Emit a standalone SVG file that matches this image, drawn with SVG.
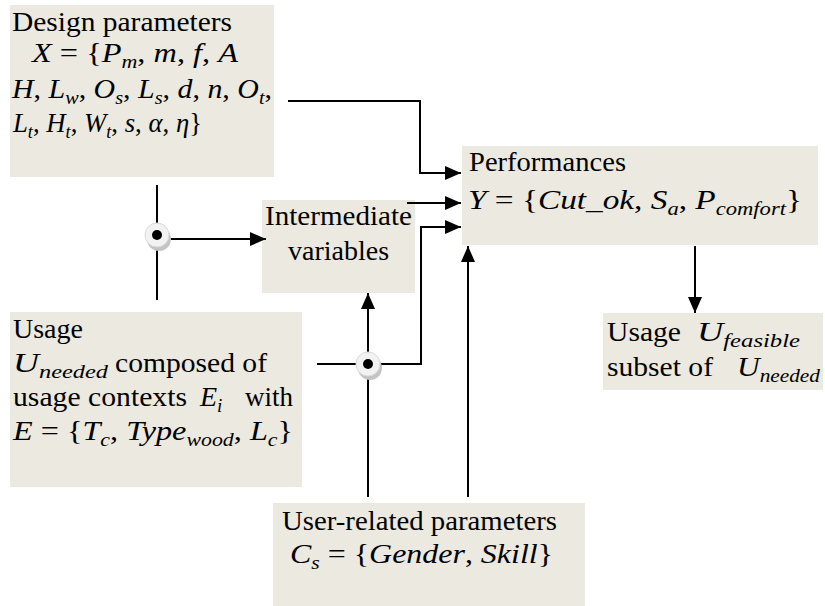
<svg xmlns="http://www.w3.org/2000/svg" width="825" height="606" viewBox="0 0 825 606">
<defs>
<style>
.box{fill:#ECE9E0;stroke:none}
.t{font-family:'Liberation Serif','Times New Roman',Tinos,serif;font-size:28px;fill:#000}
.m{font-family:'Liberation Serif','Times New Roman',Tinos,serif;font-size:28px;font-style:italic;fill:#000}
.u{font-style:normal}
.s{font-size:19px;font-style:italic}
.c{fill:none;stroke:#000;stroke-width:2}
.a{marker-end:url(#arr)}
</style>
<marker id="arr" markerUnits="userSpaceOnUse" markerWidth="17" markerHeight="15" refX="16" refY="7" orient="auto">
<path d="M0,0 L16,7 L0,14 z" fill="#000"/>
</marker>
</defs>

<g id="design">
<rect class="box" x="10" y="5" width="264" height="172"/>
<text class="t" x="12" y="31" textLength="220" lengthAdjust="spacingAndGlyphs">Design parameters</text>
<text class="m" x="32" y="62" textLength="206" lengthAdjust="spacingAndGlyphs">X<tspan class="u"> = {</tspan>P<tspan class="s" dy="6">m</tspan><tspan class="u" dy="-6">, </tspan>m<tspan class="u">, </tspan>f<tspan class="u">, </tspan>A</text>
<text class="m" x="12" y="98" textLength="260" lengthAdjust="spacingAndGlyphs">H<tspan class="u">, </tspan>L<tspan class="s" dy="6">w</tspan><tspan class="u" dy="-6">, </tspan>O<tspan class="s" dy="6">s</tspan><tspan class="u" dy="-6">, </tspan>L<tspan class="s" dy="6">s</tspan><tspan class="u" dy="-6">, </tspan>d<tspan class="u">, </tspan>n<tspan class="u">, </tspan>O<tspan class="s" dy="6">t</tspan><tspan class="u" dy="-6">,</tspan></text>
<text class="m" x="13" y="132" textLength="189" lengthAdjust="spacingAndGlyphs">L<tspan class="s" dy="6">t</tspan><tspan class="u" dy="-6">, </tspan>H<tspan class="s" dy="6">t</tspan><tspan class="u" dy="-6">, </tspan>W<tspan class="s" dy="6">t</tspan><tspan class="u" dy="-6">, </tspan>s<tspan class="u">, </tspan>α<tspan class="u">, </tspan>η<tspan class="u">}</tspan></text>
</g>

<g id="intermediate">
<rect class="box" x="262" y="200" width="153" height="93"/>
<text class="t" x="338.5" y="225" text-anchor="middle" textLength="147" lengthAdjust="spacingAndGlyphs">Intermediate</text>
<text class="t" x="338.5" y="260" text-anchor="middle">variables</text>
</g>

<g id="performances">
<rect class="box" x="462" y="146" width="356" height="99"/>
<text class="t" x="469" y="171" textLength="157" lengthAdjust="spacingAndGlyphs">Performances</text>
<text class="m" x="468" y="209" textLength="334" lengthAdjust="spacingAndGlyphs">Y<tspan class="u"> = {</tspan>Cut_ok<tspan class="u">, </tspan>S<tspan class="s" dy="6">a</tspan><tspan class="u" dy="-6">, </tspan>P<tspan class="s" dy="6">comfort</tspan><tspan class="u" dy="-6">}</tspan></text>
</g>

<g id="usage">
<rect class="box" x="10" y="312" width="292" height="175"/>
<text class="t" x="13" y="338">Usage</text>
<text class="m" x="13" y="372" textLength="95" lengthAdjust="spacingAndGlyphs">U<tspan class="s" dy="6">needed</tspan></text>
<text class="t" x="115" y="372" textLength="152" lengthAdjust="spacingAndGlyphs">composed of</text>
<text class="t" x="13" y="406" textLength="174" lengthAdjust="spacingAndGlyphs">usage contexts</text>
<text class="m" x="200" y="406">E<tspan class="s" dy="6">i</tspan></text>
<text class="t" x="245" y="406" textLength="48" lengthAdjust="spacingAndGlyphs">with</text>
<text class="m" x="13" y="440" textLength="280" lengthAdjust="spacingAndGlyphs">E<tspan class="u"> = {</tspan>T<tspan class="s" dy="6">c</tspan><tspan class="u" dy="-6">, </tspan>Type<tspan class="s" dy="6">wood</tspan><tspan class="u" dy="-6">, </tspan>L<tspan class="s" dy="6">c</tspan><tspan class="u" dy="-6">}</tspan></text>
</g>

<g id="user">
<rect class="box" x="273" y="503" width="312" height="103"/>
<text class="t" x="282" y="530" textLength="275" lengthAdjust="spacingAndGlyphs">User-related parameters</text>
<text class="m" x="290" y="563" textLength="263" lengthAdjust="spacingAndGlyphs">C<tspan class="s" dy="6">s</tspan><tspan class="u" dy="-6"> = {</tspan>Gender<tspan class="u">, </tspan>Skill<tspan class="u">}</tspan></text>
</g>

<g id="feasible">
<rect class="box" x="603" y="313" width="220" height="77"/>
<text class="t" x="607" y="341" textLength="74" lengthAdjust="spacingAndGlyphs">Usage</text>
<text class="m" x="697" y="341" textLength="103" lengthAdjust="spacingAndGlyphs">U<tspan class="s" dy="6">feasible</tspan></text>
<text class="t" x="607" y="376" textLength="106" lengthAdjust="spacingAndGlyphs">subset of</text>
<text class="m" x="737" y="376" textLength="83" lengthAdjust="spacingAndGlyphs">U<tspan class="s" dy="6">needed</tspan></text>
</g>

<g id="connectors">
<path class="c a" d="M288,101 H420 V173 H461"/>
<path class="c a" d="M407,203 H461"/>
<path class="c a" d="M317,364 H421 V227 H461"/>
<path class="c a" d="M368,364 V293"/>
<path class="c" d="M368,364 V497"/>
<path class="c a" d="M468,497 V246"/>
<path class="c a" d="M695,246 V313"/>
<path class="c" d="M157,185 V300"/>
<path class="c a" d="M157,239 H266"/>
</g>

<g id="junction1">
<circle cx="159" cy="239" r="12" fill="#C4C4C4"/>
<circle cx="157" cy="235" r="12" fill="#F2F2F2" stroke="#DADADA" stroke-width="1"/>
<circle cx="157" cy="235" r="5" fill="#000"/>
</g>
<g id="junction2">
<circle cx="370" cy="368" r="12" fill="#C4C4C4"/>
<circle cx="368" cy="364" r="12" fill="#F2F2F2" stroke="#DADADA" stroke-width="1"/>
<circle cx="368" cy="364" r="5" fill="#000"/>
</g>
</svg>
